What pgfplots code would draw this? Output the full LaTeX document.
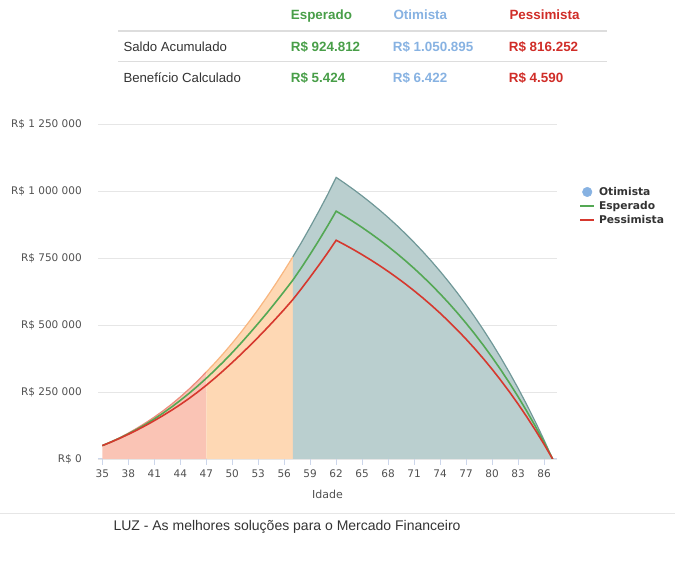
\documentclass[border=0pt]{standalone}
\usepackage{fontspec}
\setmainfont{Liberation Sans}
\newfontfamily\chartfont{DejaVu Sans}
\usepackage{pgfplots}
\usepackage{pgfplotstable}
\pgfplotsset{compat=1.18}

\definecolor{espgreen}{RGB}{72,158,72}
\definecolor{espline}{RGB}{84,168,84}
\definecolor{otiblue}{RGB}{135,178,226}
\definecolor{pesred}{RGB}{208,45,40}
\definecolor{pesline}{RGB}{214,56,46}
\definecolor{pinkfill}{RGB}{250,196,181}
\definecolor{pinkedge}{RGB}{236,140,125}
\definecolor{orangefill}{RGB}{254,216,180}
\definecolor{orangeedge}{RGB}{248,182,128}
\definecolor{tealfill}{RGB}{186,207,207}
\definecolor{tealedge}{RGB}{112,152,152}
\definecolor{gridgrey}{RGB}{230,230,230}
\definecolor{axisgrey}{RGB}{204,214,235}
\definecolor{labelgrey}{RGB}{80,80,80}
\definecolor{textdark}{RGB}{51,51,51}
\definecolor{rulegrey}{RGB}{221,221,221}

% saldo acumulado por idade (R$)
\pgfplotstableread{
idade oti esp pes
35 50000 50000 50000
36 64000 63500 63000
37 79500 78000 77000
38 96500 94000 92000
39 115000 111000 108000
40 135000 129500 125000
41 156500 149500 143000
42 179500 171000 162000
43 204500 194000 182000
44 231500 218500 203000
45 260500 244500 225500
46 291500 272000 249500
47 324500 301000 275000
48 358500 331500 302000
49 394500 363500 330500
50 432500 397000 360000
51 472500 432000 390500
52 514500 468500 422000
53 558500 506000 454500
54 604500 544500 488000
55 652500 584500 522500
56 702500 625500 558000
57 754500 667500 595000
58 808500 714500 636000
59 865500 764000 679000
60 924500 815500 723000
61 985500 869000 768500
62 1050895 924812 816252
63 1028880 905430 799200
64 1005760 885080 781240
65 981490 863720 762380
66 956000 841290 742590
67 929250 817750 721800
68 901150 793020 699980
69 871640 767050 677060
70 840670 739790 653000
71 808130 711160 627730
72 773980 681110 601200
73 738120 649550 573350
74 700470 616420 544100
75 660920 581620 513380
76 619410 545090 481140
77 575820 506730 447280
78 530050 466450 411730
79 481980 424150 374390
80 431530 379750 335200
81 378550 333120 294040
82 322910 284160 250820
83 264490 232750 205450
84 203160 178780 157810
85 138750 122100 107780
86 71120 62590 55250
87 0 0 0
}\dados

\begin{document}
\begin{tikzpicture}
\path[use as bounding box] (0,0) rectangle (675pt,564pt);

% tabela de resumo
\draw[rulegrey, line width=2pt] (118pt,533pt) -- (607pt,533pt);
\draw[rulegrey, line width=1pt] (118pt,502pt) -- (607pt,502pt);
\begin{scope}[every node/.style={inner sep=0pt, anchor=base west}]
\node[text=espgreen, font=\bfseries\fontsize{13.4}{15}\selectfont] at (290.7pt,544.2pt) {Esperado};
\node[text=otiblue, font=\bfseries\fontsize{13.4}{15}\selectfont] at (393.3pt,544.2pt) {Otimista};
\node[text=pesred, font=\bfseries\fontsize{13.4}{15}\selectfont] at (509.3pt,544.2pt) {Pessimista};
\node[text=textdark, font=\fontsize{13.2}{15}\selectfont] at (123.3pt,512.7pt) {Saldo Acumulado};
\node[text=espgreen, font=\bfseries\fontsize{13.4}{15}\selectfont] at (290.7pt,512.7pt) {R\$ 924.812};
\node[text=otiblue, font=\bfseries\fontsize{13.4}{15}\selectfont] at (392.7pt,512.7pt) {R\$ 1.050.895};
\node[text=pesred, font=\bfseries\fontsize{13.4}{15}\selectfont] at (508.7pt,512.7pt) {R\$ 816.252};
\node[text=textdark, font=\fontsize{13.2}{15}\selectfont] at (123.3pt,481.1pt) {Benefício Calculado};
\node[text=espgreen, font=\bfseries\fontsize{13.4}{15}\selectfont] at (290.7pt,481.1pt) {R\$ 5.424};
\node[text=otiblue, font=\bfseries\fontsize{13.4}{15}\selectfont] at (392.7pt,481.1pt) {R\$ 6.422};
\node[text=pesred, font=\bfseries\fontsize{13.4}{15}\selectfont] at (508.7pt,481.1pt) {R\$ 4.590};
\end{scope}

\begin{axis}[
    at={(98pt,105pt)}, anchor=south west,
    scale only axis, width=459pt, height=335pt,
    xmin=34.5, xmax=87.5, ymin=0, ymax=1250000,
    xtick={35,38,...,86},
    ytick={0,250000,500000,750000,1000000,1250000},
    scaled y ticks=false,
    /pgf/number format/assume math mode=true,
    axis x line*=bottom, axis y line*=left,
    x axis line style={-, draw=axisgrey, line width=1pt},
    y axis line style={draw=none},
    ymajorgrids, grid style={gridgrey, line width=0.8pt},
    xtick style={draw=axisgrey, line width=0.8pt},
    ytick style={draw=none},
    tick align=outside,
    xtick pos=bottom,
    major tick length=6pt,
    tick label style={font=\chartfont\fontsize{10.5}{12}\selectfont, text=labelgrey},
    yticklabel={R\$ \pgfmathprintnumber[fixed, precision=0, 1000 sep={\ }]{\tick}},
    yticklabel style={anchor=east, inner sep=0pt, xshift=-10pt},
    xticklabel style={inner sep=0pt, anchor=north, yshift=-5pt},
    xlabel={Idade},
    xlabel style={font=\chartfont\fontsize{11}{13}\selectfont, text=labelgrey, inner sep=0pt, yshift=-12pt},
    legend style={at={(1.0485,0.815)}, anchor=north west, draw=none, fill=none,
        inner sep=0pt, row sep=2.5pt, column sep=3pt,
        font=\chartfont\bfseries\fontsize{10.7}{12}\selectfont, text=textdark,
        nodes={inner sep=1pt}},
    legend cell align=left,
]
% faixas da curva otimista
\addplot[fill=pinkfill, draw=none, forget plot, restrict x to domain=35:47]
    table[x=idade, y=oti]{\dados} \closedcycle;
\addplot[fill=orangefill, draw=none, forget plot, restrict x to domain=47:57]
    table[x=idade, y=oti]{\dados} \closedcycle;
\addplot[fill=tealfill, draw=none, forget plot, restrict x to domain=57:87]
    table[x=idade, y=oti]{\dados} \closedcycle;
\addplot[pinkedge, line width=1.2pt, forget plot, restrict x to domain=35:47]
    table[x=idade, y=oti]{\dados};
\addplot[orangeedge, line width=1.2pt, forget plot, restrict x to domain=47:57]
    table[x=idade, y=oti]{\dados};
\addplot[tealedge, line width=1.2pt, forget plot, restrict x to domain=57:87]
    table[x=idade, y=oti]{\dados};
% esperado e pessimista
\addplot[espline, line width=1.6pt, forget plot] table[x=idade, y=esp]{\dados};
\addplot[pesline, line width=1.6pt, forget plot] table[x=idade, y=pes]{\dados};

\addlegendimage{legend image code/.code={\fill[otiblue] (7pt,0pt) circle (4.8pt);}}
\addlegendentry{Otimista}
\addlegendimage{legend image code/.code={\draw[espline, line width=1.6pt] (0pt,0pt) -- (14pt,0pt);}}
\addlegendentry{Esperado}
\addlegendimage{legend image code/.code={\draw[pesline, line width=1.6pt] (0pt,0pt) -- (14pt,0pt);}}
\addlegendentry{Pessimista}
\end{axis}

% rodapé
\draw[gridgrey, line width=1pt] (0pt,50pt) -- (675pt,50pt);
\node[inner sep=0pt, anchor=base west, text=textdark, font=\fontsize{14}{16}\selectfont]
    at (113.3pt,33.3pt) {LUZ - As melhores soluções para o Mercado Financeiro};
\end{tikzpicture}
\end{document}
